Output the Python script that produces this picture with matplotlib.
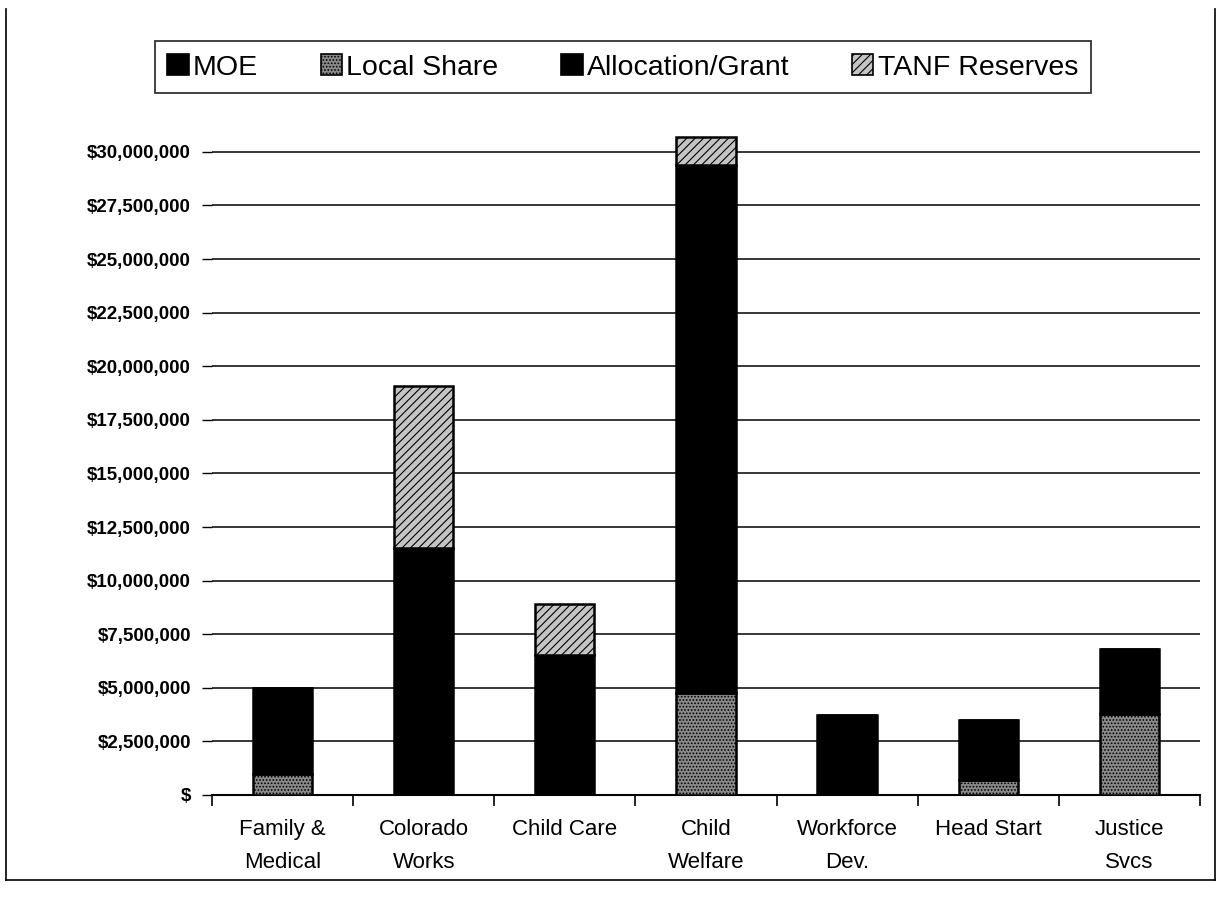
import numpy as np
import matplotlib
matplotlib.use("Agg")
import matplotlib.pyplot as plt
from matplotlib.ticker import FuncFormatter, FixedLocator
from matplotlib.lines import Line2D

plt.rcParams['font.family'] = ['Liberation Sans', 'DejaVu Sans']
plt.rcParams['hatch.linewidth'] = 0.8

categories = ['Family &\nMedical', 'Colorado\nWorks', 'Child Care', 'Child\nWelfare',
              'Workforce\nDev.', 'Head Start', 'Justice\nSvcs']
moe = [0, 0, 0, 0, 0, 0, 0]
local_share = [1000000, 0, 0, 4750000, 0, 700000, 3800000]
allocation = [4000000, 11500000, 6550000, 24650000, 3750000, 2800000, 3020000]
tanf = [0, 7600000, 2350000, 1300000, 0, 0, 0]

series = [('MOE', moe, 'black', None),
          ('Local Share', local_share, '#8a8a8a', '.....'),
          ('Allocation/Grant', allocation, 'black', None),
          ('TANF Reserves', tanf, '#c4c4c4', '////')]

fig = plt.figure(figsize=(12.21, 8.98), dpi=100)
ax = fig.add_axes([0.1736, 0.1147, 0.8092, 0.752])

x = np.arange(len(categories))
bottom = np.zeros(len(categories))
handles = []
for name, vals, color, hatch in series:
    vals = np.array(vals, dtype=float)
    ax.bar(x, vals, width=0.42, bottom=bottom, color=color, edgecolor='black',
           linewidth=1.8, hatch=hatch, zorder=3)
    bottom += vals
    handles.append(plt.Rectangle((0, 0), 1, 1, facecolor=color, edgecolor='black',
                                 hatch=hatch, linewidth=1.2))

ax.set_xlim(-0.5, len(categories) - 0.5)
ax.set_ylim(0, 31500000)
ax.set_yticks(np.arange(0, 30000001, 2500000))
ax.yaxis.set_major_formatter(FuncFormatter(lambda v, p: '$' if v == 0 else '${:,.0f}'.format(v)))
ax.yaxis.grid(True, color='black', linewidth=1.1, zorder=0)
ax.set_axisbelow(True)
for lab in ax.get_yticklabels():
    lab.set_fontweight('bold')
    lab.set_fontsize(13.5)
ax.tick_params(axis='y', length=7, width=1, pad=8, color='black')

ax.set_xticks(x)
ax.set_xticklabels(categories, fontsize=16, linespacing=1.8)
ax.tick_params(axis='x', which='major', length=0, pad=17)
ax.xaxis.set_minor_locator(FixedLocator(np.arange(-0.5, len(categories), 1.0)))
ax.tick_params(axis='x', which='minor', length=8, width=1.2, color='black')

for side in ['top', 'right', 'left']:
    ax.spines[side].set_visible(False)
ax.spines['bottom'].set_linewidth(1.5)

leg = fig.legend(handles, [s[0] for s in series], loc='center',
                 bbox_to_anchor=(0.510, 0.925), ncol=4, fontsize=20.5,
                 frameon=True, fancybox=False, edgecolor='black',
                 handlelength=0.75, handleheight=0.75, handletextpad=0.15,
                 columnspacing=2.2, borderpad=0.45)
leg.get_frame().set_linewidth(1.3)

# outer border of the scanned chart
fig.add_artist(Line2D([0.005, 0.005], [0.02, 0.99], color='black', linewidth=1.2))
fig.add_artist(Line2D([0.995, 0.995], [0.02, 0.99], color='black', linewidth=1.2))
fig.add_artist(Line2D([0.005, 0.995], [0.02, 0.02], color='black', linewidth=1.2))

fig.savefig('out.png', dpi=100)
